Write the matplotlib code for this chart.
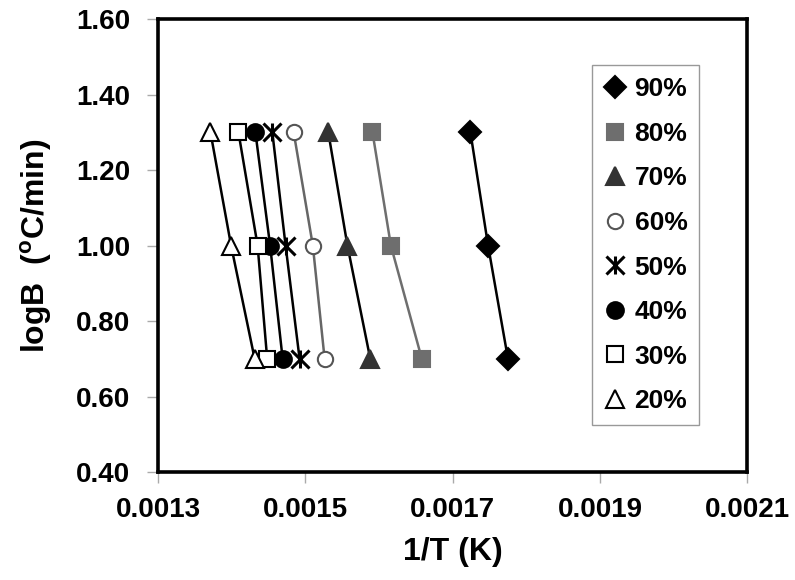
import numpy as np
import matplotlib
matplotlib.use("Agg")
import matplotlib.pyplot as plt
from matplotlib.lines import Line2D

plt.rcParams['font.family'] = ['Liberation Sans', 'DejaVu Sans']
plt.rcParams['font.weight'] = 'bold'
plt.rcParams['mathtext.fontset'] = 'custom'
plt.rcParams['mathtext.rm'] = 'Liberation Sans:bold'

# heating rates as logB
logB = [1.30, 1.00, 0.70]

# 1/T values for each conversion (rows follow logB)
labels = ["90%", "80%", "70%", "60%", "50%", "40%", "30%", "20%"]
invT_90 = [0.001724, 0.001748, 0.001775]
invT_80 = [0.001591, 0.001616, 0.001658]
invT_70 = [0.001531, 0.001557, 0.001588]
invT_60 = [0.001484, 0.001510, 0.001526]
invT_50 = [0.001455, 0.001473, 0.001492]
invT_40 = [0.001432, 0.001452, 0.001469]
invT_30 = [0.001409, 0.001435, 0.001448]
invT_20 = [0.001371, 0.001399, 0.001431]
series = [invT_90, invT_80, invT_70, invT_60, invT_50, invT_40, invT_30, invT_20]

# marker, markersize, face, edge, line colour
styles = [
    ('D', 11, 'black', 'black', 'black'),
    ('s', 11, '#6e6e6e', '#6e6e6e', '#6e6e6e'),
    ('^', 13, '#333333', '#333333', 'black'),
    ('o', 11, 'white', '#555555', '#666666'),
    ('x', 13, 'black', 'black', 'black'),
    ('o', 12, 'black', 'black', 'black'),
    ('s', 11, 'white', 'black', 'black'),
    ('^', 13, 'white', 'black', 'black'),
]

fig = plt.figure(figsize=(7.95, 5.8), dpi=100)
ax = fig.add_axes([0.199, 0.186, 0.741, 0.781])

handles = []
for xs, lab, (m, ms, fc, ec, lc) in zip(series, labels, styles):
    mew = 2.2 if m == 'x' else 1.5
    ax.plot(xs, logB, color=lc, linewidth=1.8, zorder=2)
    ax.plot(xs, logB, linestyle='none', marker=m, markersize=ms,
            markerfacecolor=fc, markeredgecolor=ec, markeredgewidth=mew, zorder=3)
    if m == 'x':
        # asterisk-like star: add a vertical bar
        ax.plot(xs, logB, linestyle='none', marker='|', markersize=ms,
                color=ec, markeredgewidth=mew, zorder=3)
        h = (Line2D([], [], linestyle='none', marker='x', markersize=ms,
                    color=ec, markeredgewidth=mew),
             Line2D([], [], linestyle='none', marker='|', markersize=ms,
                    color=ec, markeredgewidth=mew))
    else:
        h = Line2D([], [], linestyle='none', marker=m, markersize=ms,
                   markerfacecolor=fc, markeredgecolor=ec, markeredgewidth=mew)
    handles.append(h)

ax.set_xlim(0.0013, 0.0021)
ax.set_ylim(0.40, 1.60)
ax.set_xticks([0.0013, 0.0015, 0.0017, 0.0019, 0.0021])
ax.set_xticklabels(["0.0013", "0.0015", "0.0017", "0.0019", "0.0021"])
ax.set_yticks(np.arange(0.4, 1.61, 0.2))
ax.set_yticklabels(["%.2f" % v for v in np.arange(0.4, 1.61, 0.2)])
ax.tick_params(labelsize=20, length=8, width=1, color='#aaaaaa')
ax.tick_params(axis='y', pad=12)
ax.tick_params(axis='x', pad=10)
for lab in ax.get_xticklabels() + ax.get_yticklabels():
    lab.set_fontweight('bold')
for sp in ax.spines.values():
    sp.set_linewidth(2.6)

ax.set_xlabel("1/T (K)", fontsize=23, fontweight='bold', labelpad=10)
ax.set_ylabel(r"logB  ($^{\mathrm{o}}$C/min)", fontsize=23, fontweight='bold', labelpad=16)

leg = ax.legend(handles, labels, loc='upper right', bbox_to_anchor=(0.9185, 0.898),
                borderaxespad=0, fontsize=19, frameon=True, fancybox=False,
                framealpha=1, handlelength=0.8, handletextpad=0.35,
                labelspacing=0.78, borderpad=0.45)
leg.get_frame().set_edgecolor('#999999')
leg.get_frame().set_linewidth(1.0)
for t in leg.get_texts():
    t.set_fontweight('bold')

fig.savefig("out.png", dpi=100)
